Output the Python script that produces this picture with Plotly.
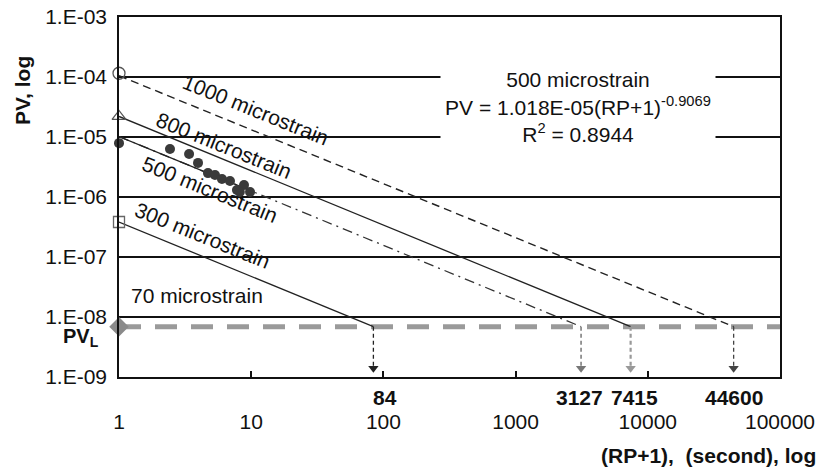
import math
import plotly.graph_objects as go

# ---- data ----
strain_labels = ["1000 microstrain", "800 microstrain", "500 microstrain", "300 microstrain"]
pv_start = [1.05e-4, 2.2e-5, 1.018e-5, 3.83e-7]
rp_limit = [44600, 7415, 3127, 84]
pv_limit = 6.9e-9
fit_coef = 1.018e-05
fit_exp = -0.9069

data_rp = [1.0, 2.43, 3.39, 3.96, 4.71, 5.32, 6.01, 6.91, 7.8, 8.82, 8.2, 9.8]
data_pv = [7.9e-6, 6.3e-6, 5.2e-6, 3.7e-6, 2.5e-6, 2.33e-6, 2.0e-6, 1.85e-6, 1.31e-6, 1.58e-6, 1.21e-6, 1.21e-6]

y_tickvals = [1e-9, 1e-8, 1e-7, 1e-6, 1e-5, 1e-4, 1e-3]
y_ticktext = ["1.E-09", "1.E-08", "1.E-07", "1.E-06", "1.E-05", "1.E-04", "1.E-03"]
x_tickvals = [1, 10, 100, 1000, 10000, 100000]
x_ticktext = ["1", "10", "100", "1000", "10000", "100000"]

FONT = "Liberation Sans, Arial, sans-serif"
FS = 21
L = math.log10

fig = go.Figure()

# PV_L horizontal threshold line
fig.add_trace(go.Scatter(x=[1, 100000], y=[pv_limit, pv_limit], mode="lines",
                         line=dict(color="#9a9a9a", width=5, dash="22px,14px"), hoverinfo="skip"))

# 1000 microstrain dashed
fig.add_trace(go.Scatter(x=[1, rp_limit[0]], y=[pv_start[0], pv_limit], mode="lines",
                         line=dict(color="#222", width=1.4, dash="8px,5px")))
# 800 solid
fig.add_trace(go.Scatter(x=[1, rp_limit[1]], y=[pv_start[1], pv_limit], mode="lines",
                         line=dict(color="#222", width=1.3)))
# 500 dash-dot extrapolation + solid fitted part
fig.add_trace(go.Scatter(x=[1, rp_limit[2]], y=[pv_start[2], pv_limit], mode="lines",
                         line=dict(color="#333", width=1.3, dash="10px,5px,2px,5px")))
fig.add_trace(go.Scatter(x=[1, 10], y=[fit_coef, fit_coef * 10 ** fit_exp], mode="lines",
                         line=dict(color="#222", width=1.3)))
# 300 solid
fig.add_trace(go.Scatter(x=[1, rp_limit[3]], y=[pv_start[3], pv_limit], mode="lines",
                         line=dict(color="#222", width=1.3)))

# vertical arrows
arrow_colors = ["#444", "#999", "#777", "#222"]
arrow_widths = [1.3, 2.2, 1.5, 1.3]
for xv, c, w in zip(rp_limit, arrow_colors, arrow_widths):
    fig.add_trace(go.Scatter(x=[xv, xv], y=[pv_limit, 1.45e-9], mode="lines",
                             line=dict(color=c, width=w, dash="4px,3px")))
    fig.add_trace(go.Scatter(x=[xv], y=[1.4e-9], mode="markers", cliponaxis=False,
                             marker=dict(symbol="triangle-down", size=9, color=c)))

# markers at start
fig.add_trace(go.Scatter(x=[1], y=[pv_start[0] * 1.1], mode="markers", cliponaxis=False,
                         marker=dict(symbol="circle-open", size=12, color="#555", line=dict(width=1.3))))
fig.add_trace(go.Scatter(x=[1], y=[pv_start[1]], mode="markers", cliponaxis=False,
                         marker=dict(symbol="triangle-up-open", size=12, color="#555", line=dict(width=1.3))))
fig.add_trace(go.Scatter(x=[1], y=[pv_start[3]], mode="markers", cliponaxis=False,
                         marker=dict(symbol="square-open", size=11, color="#666", line=dict(width=1.3))))
fig.add_trace(go.Scatter(x=[1], y=[pv_limit], mode="markers", cliponaxis=False,
                         marker=dict(symbol="diamond", size=15, color="#8a8a8a")))
# measured data (500 microstrain)
fig.add_trace(go.Scatter(x=data_rp, y=data_pv, mode="markers", cliponaxis=False,
                         marker=dict(symbol="circle", size=10, color="#3a3a3a")))

ann = []
W, H = 661, 360


def px2paper(px, py):
    return (px - 119) / W, (377 - py) / H


def txt_ann(px, py, text, **kw):
    xp, yp = px2paper(px, py)
    d = dict(x=xp, y=yp, xref="paper", yref="paper", text=text, showarrow=False,
             xanchor="center", yanchor="middle",
             font=dict(size=FS, color="#111", family=FONT))
    d.update(kw)
    return d


# rotated line labels
label_pos = [(255, 110), (224, 146), (210, 190), (203, 235)]
for txt, (px, py) in zip(strain_labels, label_pos):
    ann.append(txt_ann(px, py, txt, textangle=22))
ann.append(txt_ann(197, 295, "70 microstrain"))

# equation box
ann.append(txt_ann(578, 107,
                   "500 microstrain<br>PV = 1.018E-05(RP+1)<sup>-0.9069</sup><br>R<sup>2</sup> = 0.8944",
                   bgcolor="white", width=272, height=92))

# limit value labels
for xv, shift in zip(rp_limit, [0, 4, -2, 12]):
    ann.append(dict(x=L(xv), y=0, xref="x", yref="paper", yshift=-20, xshift=shift,
                    xanchor="center", yanchor="middle", text="<b>%d</b>" % xv, showarrow=False,
                    font=dict(size=FS, color="#111", family=FONT)))

# axis titles
ann.append(txt_ann(22, 91, "<b>PV, log</b>", textangle=-90))
ann.append(txt_ann(818, 455, "<b>(RP+1),  (second), log</b>", xanchor="right"))
ann.append(txt_ann(101, 337, "<b>PV<sub>L</sub></b>", xanchor="right",
                   font=dict(size=20, color="#111", family=FONT)))

fig.update_layout(
    width=821, height=467,
    margin=dict(l=119, r=41, t=17, b=90, autoexpand=False),
    paper_bgcolor="white", plot_bgcolor="white",
    showlegend=False,
    annotations=ann,
    font=dict(family=FONT, size=FS, color="#111"),
    xaxis=dict(type="log", range=[0, 5], tickvals=x_tickvals, ticktext=x_ticktext,
               automargin=False,
               showgrid=False, zeroline=False, showline=True, linecolor="#111", linewidth=1.5,
               mirror=True, ticks="inside", ticklen=6, tickwidth=1.5, tickcolor="#111",
               ticklabelstandoff=25, tickfont=dict(size=FS, color="#111")),
    yaxis=dict(type="log", range=[-9, -3], tickvals=y_tickvals, ticktext=y_ticktext,
               automargin=False,
               showgrid=True, gridcolor="#111", gridwidth=1.5, zeroline=False,
               showline=True, linecolor="#111", linewidth=1.5, mirror=True,
               ticks="", ticklabelstandoff=6, tickfont=dict(size=FS, color="#111")),
)

fig.write_html("out.html", config={"displayModeBar": False},
               post_script="document.body.style.margin='0px';")
